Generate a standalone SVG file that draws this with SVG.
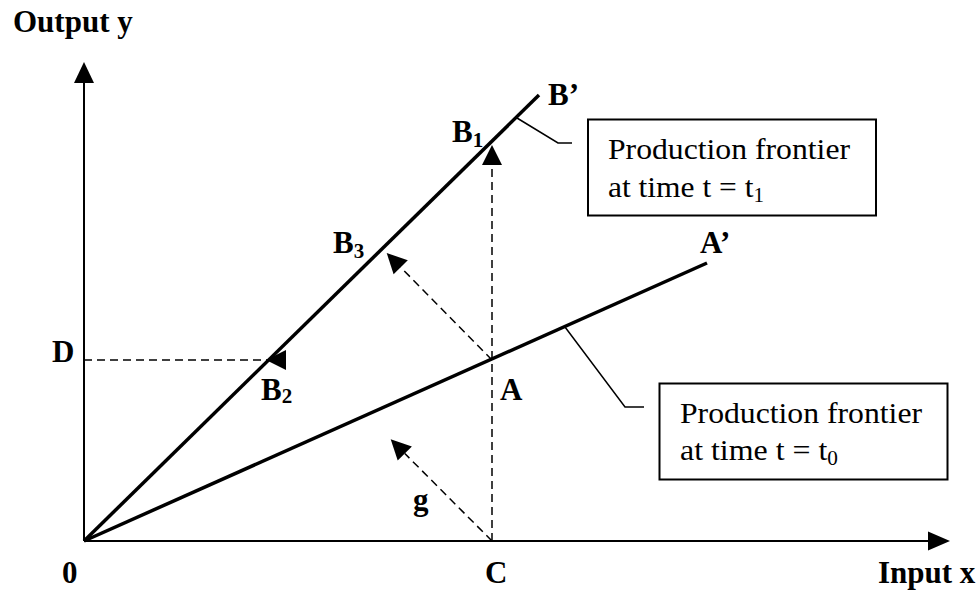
<svg xmlns="http://www.w3.org/2000/svg" width="979" height="590" viewBox="0 0 979 590">
<style>
.lbl{font-family:"Liberation Serif","Times New Roman",serif;font-weight:bold;font-size:31px;fill:#000}
.sub{font-size:21px}
.box{fill:#fff;stroke:#000;stroke-width:2}
.btxt{font-family:"Liberation Serif","Times New Roman",serif;font-size:30px;fill:#000}
.bsub{font-size:20px}
.axis{stroke:#000;stroke-width:2;fill:none}
.front{stroke:#000;stroke-width:3.5;fill:none}
.dash{stroke:#000;stroke-width:1.5;stroke-dasharray:8 5;fill:none}
.lead{stroke:#000;stroke-width:1.5;fill:none}
.head{fill:#000}
</style>
<rect width="979" height="590" fill="#fff"/>
<g id="connectors">
<line class="axis" x1="84" y1="541" x2="84" y2="80"/>
<polygon class="head" points="84,62 74,83 94,83"/>
<line class="axis" x1="84" y1="541" x2="930" y2="541"/>
<polygon class="head" points="950,541 928,531.5 928,550.5"/>
<line class="front" x1="84" y1="541" x2="539" y2="95"/>
<line class="front" x1="84" y1="541" x2="707" y2="263"/>
<line class="dash" x1="492" y1="541" x2="492" y2="163"/>
<polygon class="head" points="492,145 482,165 502,165"/>
<line class="dash" x1="84" y1="360" x2="285" y2="360"/>
<polygon class="head" points="266,360 286,350 286,370"/>
<line class="dash" x1="492" y1="360" x2="400.7" y2="267.3"/>
<polygon class="head" points="386.7,253 407.8,260.3 393.6,274.3"/>
<line class="dash" x1="492" y1="541" x2="404.8" y2="453.5"/>
<polygon class="head" points="390.7,439.3 411.9,446.4 397.7,460.6"/>
<polyline class="lead" points="517,118 558,143 572,143"/>
<polyline class="lead" points="565,327 625,407 644,407"/>
</g>
<g id="box-t1">
<rect class="box" x="588" y="119.5" width="288" height="96"/>
<text class="btxt" x="608" y="159" textLength="242" lengthAdjust="spacingAndGlyphs">Production frontier</text>
<text class="btxt" x="608" y="197" textLength="156" lengthAdjust="spacingAndGlyphs">at time t = t<tspan class="bsub" dy="5">1</tspan></text>
</g>
<g id="box-t0">
<rect class="box" x="659.5" y="383.5" width="288" height="96"/>
<text class="btxt" x="680" y="423" textLength="242" lengthAdjust="spacingAndGlyphs">Production frontier</text>
<text class="btxt" x="680" y="460" textLength="158" lengthAdjust="spacingAndGlyphs">at time t = t<tspan class="bsub" dy="5">0</tspan></text>
</g>
<g id="labels">
<text class="lbl" x="13" y="32">Output y</text>
<text class="lbl" x="548" y="105">B’</text>
<text class="lbl" x="452" y="142">B<tspan class="sub" dy="5">1</tspan></text>
<text class="lbl" x="333" y="253">B<tspan class="sub" dy="5">3</tspan></text>
<text class="lbl" x="261" y="400">B<tspan class="sub" dy="3">2</tspan></text>
<text class="lbl" x="700" y="253">A’</text>
<text class="lbl" x="500" y="400">A</text>
<text class="lbl" x="52" y="362">D</text>
<text class="lbl" x="413" y="510">g</text>
<text class="lbl" x="62" y="583">0</text>
<text class="lbl" x="485" y="583">C</text>
<text class="lbl" x="878" y="583">Input x</text>
</g>
</svg>
